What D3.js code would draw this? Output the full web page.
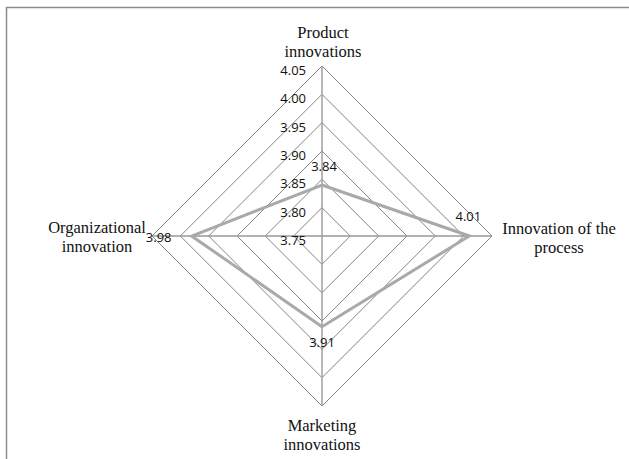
<!DOCTYPE html>
<html>
<head>
<meta charset="utf-8">
<script src="https://cdn.jsdelivr.net/npm/d3@7/dist/d3.min.js"></script>
<style>
  html, body { margin: 0; padding: 0; background: #fff; }
  svg { display: block; }
</style>
</head>
<body>
<svg id="chart" width="629" height="459"></svg>
<script>
// Innovation categories, clockwise from the top
const categories = [
  ["Product", "innovations"],
  ["Innovation of the", "process"],
  ["Marketing", "innovations"],
  ["Organizational", "innovation"]
];
const values = [3.84, 4.01, 3.91, 3.98];
const valueLabels = ["3.84", "4.01", "3.91", "3.98"];
const tickValues = [3.75, 3.80, 3.85, 3.90, 3.95, 4.00, 4.05];
const tickLabels = ["3.75", "3.80", "3.85", "3.90", "3.95", "4.00", "4.05"];

const svg = d3.select("#chart");
const W = 629, H = 459;
const cx = 322, cy = 236, R = 170;

// Outer frame (top and left edges)
svg.append("path")
  .attr("d", `M6.5,${H} V7.5 H${W}`)
  .attr("fill", "none")
  .attr("stroke", "#8c8c8c")
  .attr("stroke-width", 1.5);

const r = d3.scaleLinear().domain([3.75, 4.05]).range([0, R]);
const angle = d3.scalePoint().domain(d3.range(categories.length)).range([0, 2 * Math.PI * (categories.length - 1) / categories.length]);

function pt(i, v) {
  const a = angle(i) - Math.PI / 2;
  return [cx + r(v) * Math.cos(a), cy + r(v) * Math.sin(a)];
}

const g = svg.append("g");

// Gridline rings
tickValues.slice(1).forEach(t => {
  const pts = categories.map((c, i) => pt(i, t));
  g.append("path")
    .attr("d", d3.line()(pts) + "Z")
    .attr("fill", "none")
    .attr("stroke", "#858585")
    .attr("stroke-width", 1);
});

// Spokes
categories.forEach((c, i) => {
  const [x, y] = pt(i, 4.05);
  g.append("line")
    .attr("x1", cx).attr("y1", cy).attr("x2", x).attr("y2", y)
    .attr("stroke", "#999")
    .attr("stroke-width", 1.4);
});

// Tick labels along the top spoke
tickValues.forEach((t, k) => {
  const [x, y] = pt(0, t);
  g.append("text")
    .attr("x", cx - 16).attr("y", y + 9)
    .attr("text-anchor", "end")
    .attr("font-family", "'Open Sans', 'Noto Sans', sans-serif")
    .attr("font-size", 13)
    .attr("fill", "#111")
    .text(tickLabels[k]);
});

// Data series
const dataPts = values.map((v, i) => pt(i, v));
g.append("path")
  .attr("d", d3.line()(dataPts) + "Z")
  .attr("fill", "none")
  .attr("stroke", "#a9a9a9")
  .attr("stroke-width", 3)
  .attr("stroke-linejoin", "miter");

// Data value labels
const labelOffsets = [[2, -14], [-1, -15], [0, 20], [-33, 6]];
values.forEach((v, i) => {
  const [x, y] = pt(i, v);
  g.append("text")
    .attr("x", x + labelOffsets[i][0]).attr("y", y + labelOffsets[i][1])
    .attr("text-anchor", "middle")
    .attr("font-family", "'Open Sans', 'Noto Sans', sans-serif")
    .attr("font-size", 13)
    .attr("fill", "#111")
    .text(valueLabels[i]);
});

// Category labels
const catPos = [
  [323, 38],
  [559, 234],
  [322, 431],
  [97, 233]
];
categories.forEach((lines, i) => {
  const t = g.append("text")
    .attr("text-anchor", "middle")
    .attr("font-family", "'Liberation Serif', 'DejaVu Serif', serif")
    .attr("font-size", 16.5)
    .attr("fill", "#111");
  lines.forEach((s, j) => {
    t.append("tspan")
      .attr("x", catPos[i][0])
      .attr("y", catPos[i][1] + j * 18.5)
      .text(s);
  });
});
</script>
</body>
</html>
